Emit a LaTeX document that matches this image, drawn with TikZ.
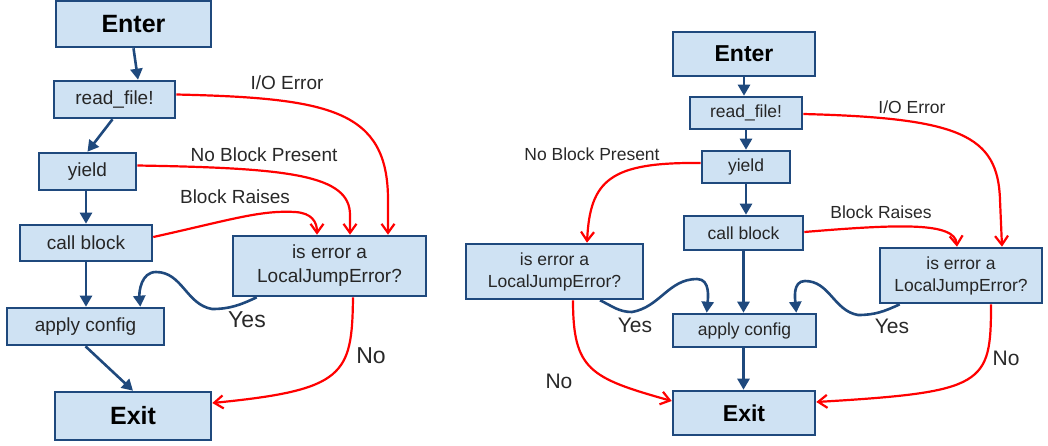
\documentclass[tikz,border=0pt]{standalone}
\usepackage{fontspec}
\setmainfont{Liberation Sans}
\usetikzlibrary{arrows.meta}
\definecolor{boxfill}{RGB}{207,226,243}
\definecolor{boxline}{RGB}{31,73,125}
\definecolor{redline}{RGB}{255,0,0}
\definecolor{labeltext}{RGB}{40,40,40}
\tikzset{
  box/.style={draw=boxline, fill=boxfill, line width=2.6pt, inner sep=0pt, align=center, text=black!85},
  bigL/.style={box, text=black, font=\fontsize{25}{28}\selectfont\bfseries},
  smallL/.style={box, font=\fontsize{19}{22}\selectfont},
  bigR/.style={box, text=black, font=\fontsize{23}{26}\selectfont\bfseries},
  smallR/.style={box, font=\fontsize{17.5}{21}\selectfont},
  qL/.style={box, font=\fontsize{19}{24}\selectfont},
  qR/.style={box, font=\fontsize{17.5}{22}\selectfont},
  flow/.style={draw=boxline, line width=2.6pt, -{Triangle[length=11pt,width=12pt]}},
  err/.style={draw=redline, line width=2.2pt, -{Straight Barb[length=9pt,width=13pt]}},
  lab/.style={text=labeltext, inner sep=0pt},
  labL/.style={lab, font=\fontsize{19}{22}\selectfont},
  labR/.style={lab, font=\fontsize{17.5}{21}\selectfont},
  ynL/.style={lab, font=\fontsize{23}{26}\selectfont},
  ynR/.style={lab, font=\fontsize{21}{24}\selectfont},
}
\begin{document}
\begin{tikzpicture}[x=1pt,y=-1pt]
\useasboundingbox (0,0) rectangle (1048,445);
% ---------- left diagram ----------
\node[bigL, minimum width=155, minimum height=46] (E1) at (133.5,24) {Enter};
\node[smallL, minimum width=121, minimum height=37] (R1) at (114.5,99.5) {read\_file!};
\node[smallL, minimum width=97, minimum height=37] (Y1) at (87.5,171.5) {yield};
\node[smallL, minimum width=132, minimum height=36] (C1) at (86,243) {call block};
\node[smallL, minimum width=157, minimum height=37] (A1) at (85.5,326.5) {apply config};
\node[bigL, minimum width=156, minimum height=48] (X1) at (133,416) {Exit};
\node[qL, minimum width=193, minimum height=60] (Q1) at (329.5,266) {is error a\\LocalJumpError?};

\draw[flow] (E1.south) -- ([xshift=23.5pt]R1.north);
\draw[flow] ([xshift=-2pt]R1.south) -- (Y1.north);
\draw[flow] ([xshift=-1.5pt]Y1.south) -- (C1.north);
\draw[flow] (C1.south) -- (C1.south |- A1.north);
\draw[flow] (A1.south) -- (X1.north);
\draw[flow] ([xshift=25pt]Q1.south west) to[out=205,in=0] (212,309) to[out=170,in=0] (156,272) to[out=180,in=95] ([xshift=-25pt]A1.north east);

\draw[err] ([yshift=5pt]R1.east) .. controls (330,98) and (388,110) .. (388,200) -- ([xshift=58.5pt]Q1.north);
\draw[err] ([yshift=6pt]Y1.east) .. controls (290,168) and (350,175) .. (350,215) -- ([xshift=20.5pt]Q1.north);
\draw[err] ([yshift=6pt]C1.east) .. controls (230,220) and (260,210) .. (295,212) .. controls (312,213) and (317,222) .. ([xshift=-12.5pt]Q1.north);
\draw[err] ([xshift=23.5pt]Q1.south) .. controls (352,375) and (345,390) .. ([yshift=13pt]X1.east);

\node[labL] (t1) at (287,83) {I/O Error};
\node[labL] (t2) at (264,155) {No Block Present};
\node[labL] (t3) at (235,197) {Block Raises};
\node[ynL] (t4) at (247,320) {Yes};
\node[ynL] (t5) at (371,356) {No};

% ---------- right diagram ----------
\node[bigR, minimum width=142, minimum height=44] (E2) at (744,54) {Enter};
\node[smallR, minimum width=112, minimum height=32] (R2) at (746,113) {read\_file!};
\node[smallR, minimum width=88, minimum height=32] (Y2) at (746,167) {yield};
\node[smallR, minimum width=119, minimum height=34] (C2) at (743.5,233) {call block};
\node[smallR, minimum width=143, minimum height=33] (A2) at (744.5,330.5) {apply config};
\node[bigR, minimum width=142, minimum height=44] (X2) at (744,413) {Exit};
\node[qR, minimum width=177, minimum height=55] (QL) at (554.5,271.5) {is error a\\LocalJumpError?};
\node[qR, minimum width=162, minimum height=55] (QR) at (961,275.5) {is error a\\LocalJumpError?};

\draw[flow] (E2.south) -- (E2.south |- R2.north);
\draw[flow] (R2.south) -- (R2.south |- Y2.north);
\draw[flow] (Y2.south) -- (Y2.south |- C2.north);
\draw[flow] (C2.south) -- (C2.south |- A2.north);
\draw[flow] ([xshift=-1pt]A2.south) -- ([xshift=-1pt]A2.south |- X2.north);
\draw[flow] ([xshift=45.5pt]QL.south) to[out=-25,in=180] (632,312) to[out=10,in=180] (697,279) to[out=0,in=85] ([xshift=35pt]A2.north west);
\draw[flow] ([xshift=21pt]QR.south west) to[out=205,in=0] (858,315) to[out=170,in=0] (805,281) to[out=180,in=95] ([xshift=-21pt]A2.north east);

\draw[err] ([yshift=4pt]Y2.west) .. controls (610,162) and (590,180) .. ([xshift=32.5pt]QL.north);
\draw[err] ([yshift=-1pt]R2.east) .. controls (960,118) and (998,135) .. (1000,200) -- ([xshift=41pt]QR.north);
\draw[err] ([yshift=1pt]C2.east) .. controls (900,224) and (955,222) .. ([xshift=-4pt]QR.north);
\draw[err] ([xshift=30pt]QR.south) .. controls (991,385) and (985,392) .. ([yshift=11pt]X2.east);
\draw[err] ([xshift=18.5pt]QL.south) .. controls (573,370) and (590,378) .. ([yshift=12pt]X2.west);

\node[labR] (u1) at (912,107) {I/O Error};
\node[labR] (u2) at (592,154) {No Block Present};
\node[labR] (u3) at (881,212) {Block Raises};
\node[ynR] (u4) at (635,325) {Yes};
\node[ynR] (u5) at (559,381) {No};
\node[ynR] (u6) at (892,326) {Yes};
\node[ynR] (u7) at (1006,358) {No};
\end{tikzpicture}
\end{document}
